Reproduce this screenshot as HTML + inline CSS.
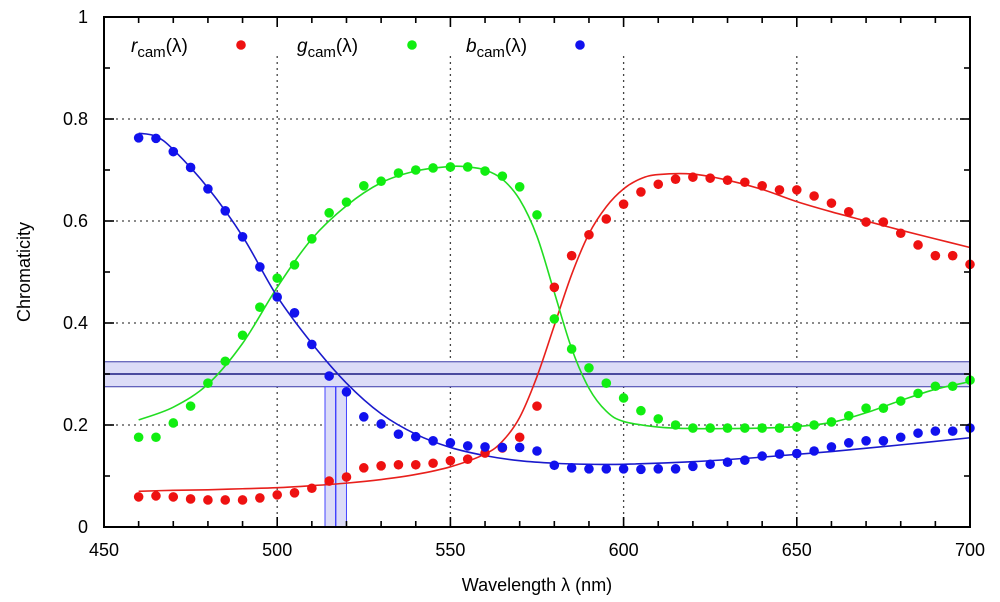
<!DOCTYPE html>
<html><head><meta charset="utf-8"><style>
html,body{margin:0;padding:0;background:#fff;}
svg{display:block;font-family:"Liberation Sans",sans-serif;}
</style></head><body>
<svg id="chart" width="1000" height="602" viewBox="0 0 1000 602">
<g id="grid"></g>
<g id="bands"></g>
<g id="curves"></g>
<g id="points"></g>
<g id="axes"></g>
<g id="legend"></g>
<text x="537" y="591" font-size="18" text-anchor="middle">Wavelength λ (nm)</text>
<text transform="translate(30,272) rotate(-90)" font-size="18" text-anchor="middle">Chromaticity</text>
</svg>
<script>
const wl = [460,465,470,475,480,485,490,495,500,505,510,515,520,525,530,535,540,545,550,555,560,565,570,575,580,585,590,595,600,605,610,615,620,625,630,635,640,645,650,655,660,665,670,675,680,685,690,695,700];
const rPts = [0.059,0.061,0.059,0.055,0.053,0.053,0.053,0.057,0.063,0.067,0.076,0.09,0.098,0.116,0.12,0.122,0.122,0.125,0.13,0.133,0.145,0.155,0.176,0.237,0.47,0.532,0.573,0.604,0.633,0.657,0.672,0.682,0.686,0.684,0.68,0.676,0.669,0.661,0.661,0.649,0.635,0.618,0.598,0.598,0.576,0.553,0.532,0.532,0.515];
const gPts = [0.176,0.176,0.204,0.237,0.282,0.325,0.376,0.431,0.488,0.514,0.565,0.616,0.637,0.669,0.678,0.694,0.7,0.704,0.706,0.706,0.698,0.688,0.667,0.612,0.408,0.349,0.312,0.282,0.253,0.228,0.212,0.2,0.194,0.194,0.194,0.194,0.194,0.194,0.196,0.2,0.206,0.218,0.233,0.233,0.247,0.262,0.276,0.276,0.288];
const bPts = [0.763,0.762,0.736,0.705,0.663,0.62,0.569,0.51,0.451,0.42,0.358,0.296,0.265,0.216,0.202,0.182,0.177,0.169,0.165,0.159,0.157,0.156,0.156,0.149,0.121,0.116,0.114,0.114,0.114,0.113,0.114,0.114,0.119,0.123,0.127,0.131,0.139,0.143,0.144,0.149,0.157,0.165,0.169,0.169,0.176,0.184,0.188,0.188,0.194];
const rCurveX = [460,470,480,490,500,510,520,530,540,550,560,565,570,575,580,585,590,595,600,605,610,620,630,640,650,660,670,680,690,700];
const rCurveY = [0.07,0.072,0.073,0.075,0.077,0.081,0.086,0.093,0.103,0.118,0.143,0.168,0.215,0.295,0.395,0.495,0.575,0.628,0.663,0.683,0.691,0.692,0.68,0.662,0.638,0.618,0.6,0.582,0.565,0.548];
const gCurveX = [460,470,480,490,500,510,520,530,540,550,555,560,565,570,575,580,585,590,595,600,610,620,630,640,650,660,670,680,690,700];
const gCurveY = [0.21,0.235,0.28,0.36,0.47,0.565,0.63,0.675,0.698,0.707,0.706,0.7,0.682,0.642,0.57,0.46,0.35,0.272,0.227,0.207,0.196,0.193,0.193,0.194,0.197,0.205,0.224,0.248,0.27,0.285];
const bCurveX = [460,465,470,480,490,500,510,520,530,540,550,560,570,580,590,600,620,640,660,680,700];
const bCurveY = [0.772,0.766,0.74,0.665,0.57,0.452,0.36,0.282,0.222,0.182,0.156,0.14,0.13,0.125,0.123,0.123,0.128,0.137,0.148,0.161,0.175];
const xTicks = [450,500,550,600,650,700];
const yTicks = [0,0.2,0.4,0.6,0.8,1];
const yTickLabels = ["0","0.2","0.4","0.6","0.8","1"];
const hBand = [0.275,0.3,0.324];
const vBand = [513.8,516.9,520];

const X0=104,X1=970,Y0=527,Y1=17;
const sx = v => X0 + (v-450)/(700-450)*(X1-X0);
const sy = v => Y0 - v*(Y0-Y1);
const NS="http://www.w3.org/2000/svg";
function mk(tag, parent, attrs){const e=document.createElementNS(NS,tag);for(const k in attrs)e.setAttribute(k,attrs[k]);parent.appendChild(e);return e;}
const grid=document.getElementById('grid'),axes=document.getElementById('axes'),bands=document.getElementById('bands'),curves=document.getElementById('curves'),points=document.getElementById('points'),legend=document.getElementById('legend');

// grid
xTicks.slice(1,-1).forEach(v=>{
  const l=mk('line',grid,{x1:sx(v),x2:sx(v),y1:56,y2:Y0,stroke:'#444','stroke-width':1.3,'stroke-dasharray':'2,4'});
  
  
});
yTicks.slice(1,-1).forEach(v=>{
  const l=mk('line',grid,{x1:X0,x2:X1,y1:sy(v),y2:sy(v),stroke:'#444','stroke-width':1.3,'stroke-dasharray':'2,4'});
  
  
});

// bands
const hb=mk('rect',bands,{x:X0,y:sy(hBand[2]),width:X1-X0,height:sy(hBand[0])-sy(hBand[2]),fill:'#dcdcf7',stroke:'#3a3aa8','stroke-width':1});


const vb=mk('rect',bands,{x:sx(vBand[0]),y:sy(hBand[0]),width:sx(vBand[2])-sx(vBand[0]),height:Y0-sy(hBand[0]),fill:'#dcdcf7',stroke:'#4444ff','stroke-width':1});


const hc=mk('line',bands,{x1:X0,x2:X1,y1:sy(hBand[1]),y2:sy(hBand[1]),stroke:'#1a1a80','stroke-width':1.5});


const vc=mk('line',bands,{x1:sx(vBand[1]),x2:sx(vBand[1]),y1:sy(hBand[0]),y2:Y0,stroke:'#3333ff','stroke-width':1.3});



// curves (Catmull-Rom)
function path(xs,ys){
  const p=xs.map((x,i)=>[sx(x),sy(ys[i])]);
  let d=`M${p[0][0]},${p[0][1]}`;
  for(let i=0;i<p.length-1;i++){
    const p0=p[Math.max(0,i-1)],p1=p[i],p2=p[i+1],p3=p[Math.min(p.length-1,i+2)];
    const c1=[p1[0]+(p2[0]-p0[0])/6,p1[1]+(p2[1]-p0[1])/6];
    const c2=[p2[0]-(p3[0]-p1[0])/6,p2[1]-(p3[1]-p1[1])/6];
    d+=`C${c1[0]},${c1[1]} ${c2[0]},${c2[1]} ${p2[0]},${p2[1]}`;
  }
  return d;
}
const cr=mk('path',curves,{d:path(rCurveX,rCurveY),fill:'none',stroke:'#e8201c','stroke-width':1.6});


const cg=mk('path',curves,{d:path(gCurveX,gCurveY),fill:'none',stroke:'#22dd22','stroke-width':1.6});


const cb=mk('path',curves,{d:path(bCurveX,bCurveY),fill:'none',stroke:'#1a1acc','stroke-width':1.6});



// points
[[rPts,'#ee1111','r-point'],[gPts,'#11ee11','g-point'],[bPts,'#1111ee','b-point']].forEach(([arr,col,nm])=>{
  arr.forEach((v,i)=>{
    const c=mk('circle',points,{cx:sx(wl[i]),cy:sy(v),r:4.8,fill:col});
    
    
  });
});

// axes frame & ticks
const fr=mk('rect',axes,{x:X0,y:Y1,width:X1-X0,height:Y0-Y1,fill:'none',stroke:'#000','stroke-width':2});


for(let v=450;v<=700;v+=10){
  const L=(v%50===0)?10:6;
  mk('line',axes,{x1:sx(v),x2:sx(v),y1:Y0,y2:Y0-L,stroke:'#000','stroke-width':1.6});
  mk('line',axes,{x1:sx(v),x2:sx(v),y1:Y1,y2:Y1+L,stroke:'#000','stroke-width':1.6});
}
for(let k=0;k<=10;k++){
  const v=k/10,L=(k%2===0)?10:6;
  mk('line',axes,{x1:X0,x2:X0+L,y1:sy(v),y2:sy(v),stroke:'#000','stroke-width':1.6});
  mk('line',axes,{x1:X1,x2:X1-L,y1:sy(v),y2:sy(v),stroke:'#000','stroke-width':1.6});
}
xTicks.forEach(v=>{
  const t=mk('text',axes,{x:sx(v),y:556,'font-size':18,'text-anchor':'middle'});
  t.textContent=String(v);
  
  
});
yTicks.forEach((v,i)=>{
  const t=mk('text',axes,{x:88,y:sy(v)+6,'font-size':18,'text-anchor':'end'});
  t.textContent=yTickLabels[i];
  
  
});

// legend
[['r',131,241,'#ee1111','legend-r'],['g',297,412,'#11ee11','legend-g'],['b',466,580,'#1111ee','legend-b']].forEach(([s,tx,dx,col,nm])=>{
  const t=mk('text',legend,{x:tx,y:52,'font-size':19});
  t.innerHTML=`<tspan font-style="italic">${s}</tspan><tspan font-size="15" dy="5">cam</tspan><tspan dy="-5">(λ)</tspan>`;
  
  
  const c=mk('circle',legend,{cx:dx,cy:45,r:4.8,fill:col});
  
  
});
</script>
</body></html>
